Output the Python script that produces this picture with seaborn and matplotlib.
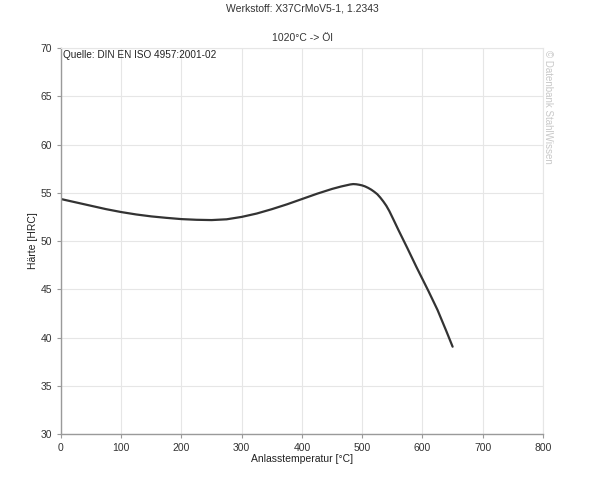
import pandas as pd
import matplotlib
matplotlib.use("Agg")
import matplotlib.pyplot as plt
import seaborn as sns

# Anlasskurve X37CrMoV5-1
temperature = [0, 25, 50, 75, 100, 125, 150, 175, 200, 225, 250, 275, 300, 325,
               350, 375, 400, 425, 450, 465, 480, 485, 490, 495, 500, 505, 510,
               515, 520, 525, 530, 535, 540, 545, 552, 560, 575, 590, 600, 610,
               625, 640, 650]
hardness = [54.35, 54.0, 53.65, 53.3, 53.0, 52.75, 52.55, 52.4, 52.27, 52.2,
            52.17, 52.25, 52.5, 52.85, 53.3, 53.8, 54.35, 54.9, 55.4, 55.65,
            55.86, 55.9, 55.88, 55.83, 55.76, 55.65, 55.5, 55.32, 55.1, 54.85,
            54.5, 54.1, 53.65, 53.1, 52.2, 51.15, 49.25, 47.3, 46.05, 44.8,
            42.85, 40.6, 39.05]

x_ticks = [0, 100, 200, 300, 400, 500, 600, 700, 800]
y_ticks = [30, 35, 40, 45, 50, 55, 60, 65, 70]

df = pd.DataFrame({"temp": temperature, "hrc": hardness})

sns.set_style("white")
plt.rcParams["font.family"] = ["Liberation Sans", "DejaVu Sans"]

fig = plt.figure(figsize=(6.05, 4.83), dpi=100)
ax = fig.add_axes([0.1008, 0.1014, 0.7967, 0.7992])

sns.lineplot(data=df, x="temp", y="hrc", ax=ax, color="#333333", linewidth=1.6)

ax.set_xlim(0, 800)
ax.set_ylim(30, 70)
ax.set_xticks(x_ticks)
ax.set_yticks(y_ticks)
ax.grid(True, color="#e6e6e6", linewidth=0.8)
ax.set_axisbelow(True)

for side in ["top", "right"]:
    ax.spines[side].set_color("#e6e6e6")
    ax.spines[side].set_linewidth(0.8)
for side in ["left", "bottom"]:
    ax.spines[side].set_color("#9a9a9a")
    ax.spines[side].set_linewidth(1.0)

ax.tick_params(axis="both", labelsize=7.5, colors="#333333", length=3,
               width=0.8, direction="out", left=True, bottom=True)
ax.tick_params(axis="both", color="#9a9a9a")

ax.set_xlabel("Anlasstemperatur [°C]", fontsize=7.5, color="#222222", labelpad=1)
ax.set_ylabel("Härte [HRC]", fontsize=7.5, color="#222222", labelpad=2)

ax.text(0.004, 0.995, "Quelle: DIN EN ISO 4957:2001-02", transform=ax.transAxes,
        fontsize=7.2, color="#222222", ha="left", va="top")

fig.text(0.5, 0.993, "Werkstoff: X37CrMoV5-1, 1.2343", fontsize=7.5,
         color="#333333", ha="center", va="top")
fig.text(0.5, 0.932, "1020°C -> Öl", fontsize=7.5, color="#333333",
         ha="center", va="top")

fig.text(0.906, 0.897, "© Datenbank StahlWissen", fontsize=7, color="#c8c8c8",
         rotation=-90, ha="center", va="top")

fig.savefig("out.png", dpi=100)
